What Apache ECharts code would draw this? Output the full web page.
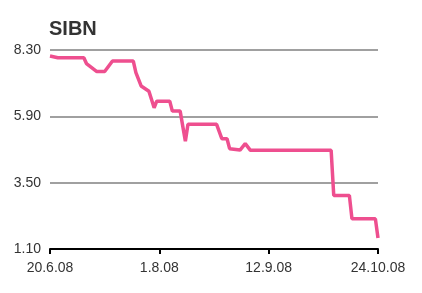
<!DOCTYPE html>
<html><head><meta charset="utf-8">
<script src="https://cdn.jsdelivr.net/npm/echarts@6/dist/echarts.min.js"></script>
<style>html,body{margin:0;padding:0;background:#fff}#c{width:422px;height:293px}</style>
</head><body><div id="c"></div>
<script>
var title = 'SIBN';
var dates = ['2008-06-20','2008-06-23','2008-07-03','2008-07-04','2008-07-08','2008-07-11','2008-07-14','2008-07-22','2008-07-23','2008-07-25','2008-07-28','2008-07-30','2008-07-31','2008-08-05','2008-08-06','2008-08-09','2008-08-11','2008-08-12','2008-08-23','2008-08-25','2008-08-27','2008-08-28','2008-09-01','2008-09-03','2008-09-05','2008-10-06','2008-10-07','2008-10-13','2008-10-14','2008-10-23','2008-10-24'];
var prices = [8.08,8.02,8.02,7.81,7.52,7.52,7.90,7.90,7.48,7.00,6.81,6.21,6.45,6.45,6.09,6.09,5.00,5.61,5.61,5.09,5.09,4.73,4.68,4.91,4.67,4.67,3.04,3.04,2.19,2.19,1.50];
var xTickDates = ['2008-06-20','2008-08-01','2008-09-12','2008-10-24'];
var xTickLabels = ['20.6.08','1.8.08','12.9.08','24.10.08'];
var yTicks = [1.10,3.50,5.90,8.30];

var DAY = 86400000;
var t0 = Date.parse(xTickDates[0]);
function dayOf(s){ return Math.round((Date.parse(s) - t0) / DAY); }
var xTickDays = xTickDates.map(dayOf);
var data = dates.map(function(d,i){ return [dayOf(d), prices[i]]; });

var chart = echarts.init(document.getElementById('c'), null, {renderer:'canvas'});
chart.setOption({
  animation:false,
  title:{text:title, left:44, top:14, textStyle:{fontFamily:'Liberation Sans', fontSize:20, fontWeight:'bold', color:'#333'}},
  grid:{left:50, right:44, top:50, bottom:44, containLabel:false},
  xAxis:{type:'value', min:xTickDays[0], max:xTickDays[xTickDays.length-1],
    axisLine:{show:true, lineStyle:{color:'#000', width:2}},
    axisTick:{show:true, customValues:xTickDays, length:5, lineStyle:{color:'#000', width:2}},
    axisLabel:{customValues:xTickDays, margin:12, fontFamily:'Liberation Sans', fontSize:14, color:'#333',
      formatter:function(v){ var i = xTickDays.indexOf(v); return i>=0 ? xTickLabels[i] : ''; }},
    splitLine:{show:false}},
  yAxis:{type:'value', min:yTicks[0], max:yTicks[yTicks.length-1],
    axisLine:{show:false},
    axisTick:{show:false, customValues:yTicks},
    axisLabel:{customValues:yTicks, margin:9, fontFamily:'Liberation Sans', fontSize:14, color:'#333',
      formatter:function(v){ return v.toFixed(2); }},
    splitLine:{show:true, lineStyle:{color:'#a0a0a0', width:2}}},
  series:[{type:'line', data:data, symbol:'none', lineStyle:{color:'#ee4f8f', width:3.5}, z:3}]
});
</script></body></html>
